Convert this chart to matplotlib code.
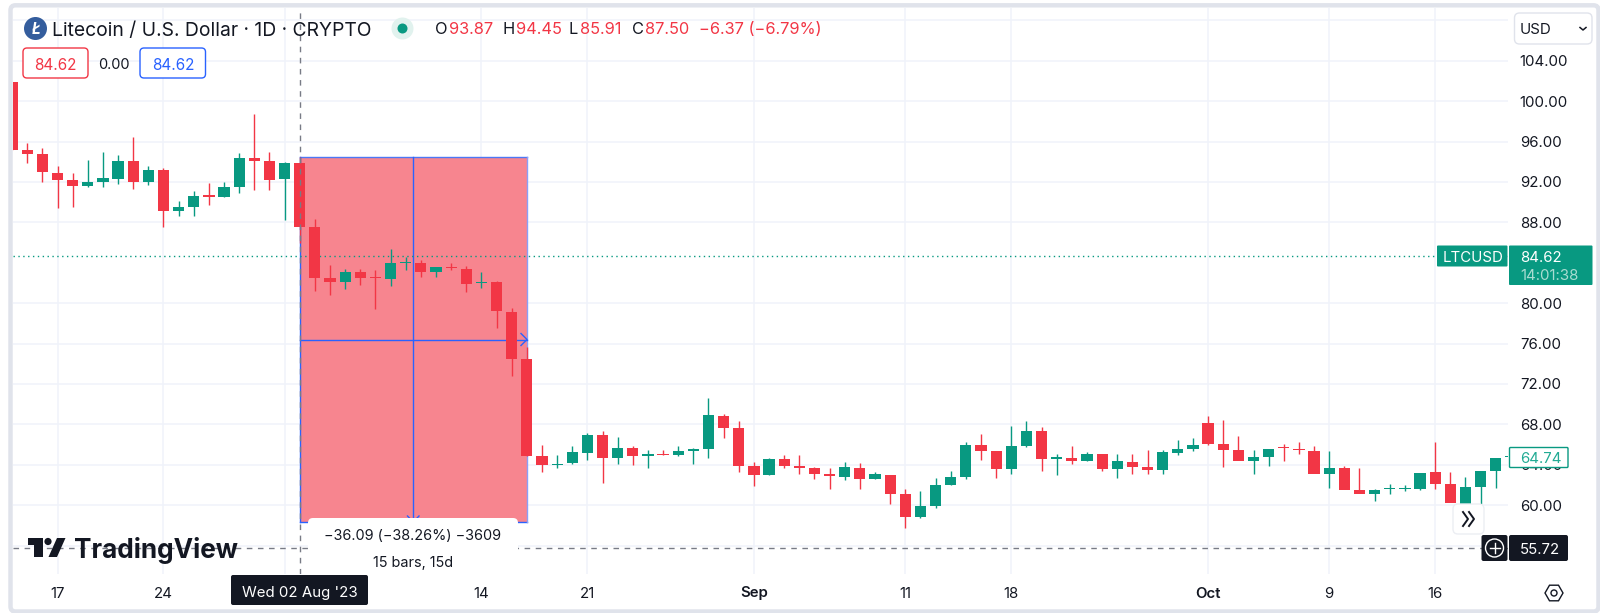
import matplotlib
matplotlib.use("Agg")
import matplotlib.pyplot as plt
import numpy as np
from matplotlib.patches import Circle, FancyBboxPatch, Polygon, Rectangle

plt.rcParams["font.family"] = ["Inter", "DejaVu Sans"]

# day offsets from 17 Jul 2023, first candle is 14 Jul (cut by the left edge)
first_day = -3
opens = [101.92, 95.16, 94.80, 92.88, 92.22, 91.56, 91.96, 92.32, 94.10, 92.02,
         93.21, 89.15, 89.48, 90.67, 90.54, 91.46, 94.37, 94.04, 92.29, 93.87,
         87.50, 82.48, 82.09, 83.08, 82.55, 82.36, 83.97, 84.00, 83.05, 83.60,
         83.41, 81.99, 82.06, 79.15, 74.46, 64.83, 63.97, 64.14, 65.19, 66.97,
         64.69, 65.65, 64.83, 65.06, 64.96, 65.36, 65.53, 68.85, 67.63, 63.90,
         62.95, 64.59, 63.90, 63.70, 63.08, 62.78, 63.64, 62.58, 63.01, 61.10,
         58.82, 59.88, 61.96, 62.81, 65.92, 65.36, 63.57, 65.88, 67.34, 64.59,
         64.69, 64.34, 65.09, 63.57, 64.27, 63.74, 63.51, 65.19, 65.53, 68.16,
         66.02, 65.43, 64.37, 64.76, 65.72, 65.53, 65.39, 63.08, 63.67, 61.50,
         61.07, 61.57, 61.57, 61.62, 63.28, 62.09, 60.14, 61.76, 63.38, 64.74][:100]
closes = [95.16, 94.73, 92.98, 92.22, 91.59, 91.99, 92.39, 94.10, 92.02, 93.21,
          89.15, 89.52, 90.64, 90.54, 91.50, 94.37, 94.04, 92.22, 93.87, 87.50,
          82.45, 82.09, 83.08, 82.45, 82.45, 83.94, 84.07, 83.05, 83.54, 83.50,
          81.92, 82.09, 79.22, 74.46, 64.83, 64.00, 64.10, 65.29, 66.97, 64.69,
          65.65, 64.83, 65.06, 64.96, 65.36, 65.53, 68.92, 67.63, 63.90, 62.98,
          64.59, 63.90, 63.70, 63.08, 62.85, 63.74, 62.58, 63.05, 61.10, 58.82,
          59.88, 61.96, 62.81, 65.92, 65.39, 63.57, 65.85, 67.34, 64.59, 64.73,
          64.34, 65.09, 63.57, 64.34, 63.77, 63.51, 65.23, 65.53, 65.98, 66.02,
          65.46, 64.40, 64.76, 65.53, 65.62, 65.46, 63.08, 63.64, 61.50, 61.10,
          61.50, 61.66, 61.66, 63.21, 62.09, 60.18, 61.79, 63.38, 64.69, 64.74][:100]
highs = [101.92, 95.82, 95.39, 93.61, 92.91, 94.17, 94.93, 94.70, 96.45, 93.57,
         93.34, 90.11, 91.13, 91.92, 91.99, 94.86, 98.72, 94.99, 93.94, 94.45,
         88.30, 83.77, 83.35, 83.41, 83.28, 85.36, 84.53, 84.27, 83.57, 83.94,
         83.64, 83.08, 82.19, 79.49, 75.68, 65.92, 64.93, 65.85, 67.11, 67.34,
         66.71, 65.85, 65.43, 65.46, 65.85, 65.68, 70.60, 69.02, 68.30, 64.24,
         64.66, 64.96, 64.99, 63.80, 63.64, 64.30, 64.14, 63.25, 63.01, 61.59,
         61.43, 62.71, 63.38, 66.25, 67.01, 65.36, 67.83, 68.36, 67.70, 65.03,
         65.85, 65.29, 65.09, 65.03, 65.03, 65.46, 65.46, 66.48, 66.61, 68.82,
         68.43, 66.84, 65.43, 65.29, 66.02, 66.28, 65.88, 65.39, 63.84, 63.67,
         61.57, 62.09, 61.99, 62.09, 66.28, 63.28, 62.81, 61.86, 64.27, 64.74]
lows = [95.16, 93.90, 92.02, 89.38, 89.52, 91.53, 91.50, 91.79, 91.33, 91.69,
        87.53, 88.62, 88.62, 89.71, 90.54, 90.90, 91.20, 91.20, 88.23, 85.91,
        81.20, 80.80, 81.37, 81.79, 79.39, 81.72, 83.28, 82.61, 82.61, 83.28,
        81.07, 81.53, 77.50, 72.81, 64.83, 63.28, 63.64, 64.07, 64.44, 62.19,
        64.07, 63.97, 63.64, 64.93, 64.86, 64.07, 64.63, 66.64, 63.28, 61.92,
        62.95, 63.64, 63.08, 62.61, 61.57, 62.49, 61.57, 62.58, 60.11, 57.76,
        58.69, 59.68, 61.96, 62.61, 64.47, 62.71, 63.05, 65.75, 63.41, 63.01,
        64.07, 64.34, 63.38, 62.65, 63.11, 63.08, 63.11, 64.99, 65.39, 65.92,
        63.80, 65.33, 63.05, 63.87, 64.40, 65.06, 65.09, 61.69, 62.61, 61.20,
        60.38, 61.07, 61.40, 61.47, 61.62, 61.50, 60.18, 60.14, 61.69, 63.38]

price_ticks = [56, 60, 64, 68, 72, 76, 80, 84, 88, 92, 96, 100, 104, 108]
price_ticks = [p for p in price_ticks if p != 84]
date_ticks = [0, 7, 15, 28, 35, 46, 56, 63, 76, 84, 91]
date_labels = ["17", "24", "Aug", "14", "21", "Sep", "11", "18", "Oct", "9", "16"]

# measure tool
measure_top = 94.43
measure_bottom = 58.34
measure_start = 16
measure_end = 31
last_price = 84.62
cross_price = 55.72

GREEN = "#089981"
RED = "#f23645"
BLUE = "#2962ff"
DARK = "#131722"
GRID = "#f0f3fa"
W, H = 1600, 613

fig = plt.figure(figsize=(W / 100, H / 100), dpi=100, facecolor="white")
ax = fig.add_axes([13 / W, 1 - 574 / H, (1508 - 13) / W, (574 - 8) / H])
ax.set_xlim(-2.94, 95.81)
ax.set_ylim(53.18, 109.22)
for s in ax.spines.values():
    s.set_visible(False)
ax.set_axisbelow(True)
ax.grid(True, color=GRID, lw=1.1)
ax.set_yticks(price_ticks)
ax.set_yticklabels(["%.2f" % p for p in price_ticks], fontsize=10.8, color=DARK, ha="left")
ax.yaxis.tick_right()
ax.tick_params(axis="y", length=0, pad=8.5)
ax.set_xticks(date_ticks)
ax.set_xticklabels(date_labels, fontsize=10.8, color=DARK)
ax.tick_params(axis="x", length=0, pad=9)
for lab in ax.get_xticklabels():
    if lab.get_text() in ("Aug", "Sep", "Oct"):
        lab.set_fontweight("semibold")

# measure box goes under the candles
ax.add_patch(Rectangle((measure_start, measure_bottom), measure_end - measure_start,
                       measure_top - measure_bottom, fc="#f7858f", ec="none", zorder=1))
measure_mid_x = (measure_start + measure_end) / 2
measure_mid_y = (measure_top + measure_bottom) / 2
ax.plot([measure_start, measure_end], [measure_top, measure_top], color="#4c78f5", lw=1, zorder=1.5)
ax.plot([measure_start, measure_end], [measure_bottom, measure_bottom], color=BLUE, lw=1, zorder=1.5)
ax.plot([measure_end, measure_end], [measure_bottom, measure_top], color="#8c9ff7", lw=1, zorder=1.5)
ax.plot([measure_start, measure_start], [measure_bottom, measure_top], color=BLUE, lw=1, zorder=1.5)
ax.plot([measure_mid_x, measure_mid_x], [measure_bottom, measure_top], color=BLUE, lw=1, zorder=1.5)
ax.plot([measure_start, measure_end], [measure_mid_y, measure_mid_y], color=BLUE, lw=1, zorder=1.5)

ax.axhline(last_price, color=GREEN, lw=1, ls=(0, (1, 2.5)), zorder=2)

days = np.arange(len(opens)) + first_day
for d, o, h, l, c in zip(days, opens, highs, lows, closes):
    col = GREEN if c >= o else RED
    ax.vlines(d, l, h, color=col, lw=1.0, zorder=3)
    top, bot = max(o, c), min(o, c)
    ax.add_patch(Rectangle((d - 0.37, bot), 0.74, max(top - bot, 0.1), fc=col, ec="none", zorder=3))

# crosshair on top of the candles
ax.axvline(measure_start, color="#787b86", lw=1, ls=(0, (4, 4)), zorder=4)
ax.axhline(cross_price, color="#787b86", lw=1, ls=(0, (4, 4)), zorder=4)

# everything below is interface chrome, placed in pixels
ui = fig.add_axes([0, 0, 1, 1], facecolor="none")
ui.set_xlim(0, W)
ui.set_ylim(H, 0)
ui.axis("off")


def box(x0, y0, x1, y1, fc, ec="none", r=2, lw=1, zorder=5, **kw):
    p = FancyBboxPatch((x0 + r, y0 + r), x1 - x0 - 2 * r, y1 - y0 - 2 * r,
                       boxstyle="round,pad=%g,rounding_size=%g" % (r, r),
                       fc=fc, ec=ec, lw=lw, zorder=zorder, **kw)
    ui.add_patch(p)


def label(x, y, s, color=DARK, size=10.8, ha="left", zorder=7, **kw):
    ui.text(x, y, s, color=color, fontsize=size, ha=ha, va="center_baseline", zorder=zorder, **kw)


# outer frame
box(10.5, 5.3, 1598.5, 611.5, "none", ec="#e0e3eb", r=5, lw=3.2, zorder=9)

# legend row
ui.add_patch(Circle((35.5, 28.5), 11.5, fc="#345d9d", ec="none", zorder=6))
label(35.5, 28.5, "Ł", color="white", size=11, ha="center", fontweight="bold", fontstyle="italic")
label(52, 28.5, "Litecoin / U.S. Dollar · 1D · CRYPTO", size=13.9)
ui.add_patch(Circle((402.5, 28.5), 11, fc="#e1f2ee", ec="none", zorder=6))
ui.add_patch(Circle((402.5, 28.5), 5, fc=GREEN, ec="none", zorder=6))
legend_bits = [(434.5, "O", DARK), (449, "93.87", RED), (502, "H", DARK), (516, "94.45", RED),
               (569, "L", DARK), (580, "85.91", RED), (632, "C", DARK), (645, "87.50", RED),
               (699, "−6.37 (−6.79%)", RED)]
for x, s, col in legend_bits:
    label(x, 28.5, s, color=col, size=11.8)

box(23, 48, 88, 78, "white", ec=RED, r=4)
label(55.5, 63.5, "84.62", color=RED, size=11, ha="center")
label(114, 63.5, "0.00", size=10.5, ha="center")
box(140, 48, 205.5, 78, "white", ec=BLUE, r=4)
label(173, 63.5, "84.62", color=BLUE, size=11, ha="center")

# currency box
box(1514.5, 13, 1592, 44, "white", ec="#e0e3eb", r=5)
label(1520, 29, "USD", size=10.8)
ui.plot([1580, 1583, 1586], [27.5, 30, 27.5], color=DARK, lw=1.1, zorder=7)

# last price tags
box(1437, 245.5, 1507.5, 266.5, GREEN, r=1)
label(1443, 256.5, "LTCUSD", color="white", size=10.8)
box(1509, 245.5, 1592.5, 285, GREEN, r=1)
label(1520, 256.5, "84.62", color="white", size=10.8)
label(1520, 274.5, "14:01:38", color="#a9dcd1", size=10.8)

box(1509.5, 447.5, 1568, 467.5, "white", ec=GREEN, r=1)
label(1520, 457.5, "64.74", color="#22ab94", size=10.8)

# crosshair price tag and plus button
box(1481.5, 535, 1507.5, 561, DARK, r=2)
box(1509, 535, 1568, 561, DARK, r=2)
label(1520, 548.5, "55.72", color="white", size=10.8)
ui.add_patch(Circle((1494.5, 548), 9, fc="none", ec="white", lw=1, zorder=7))
ui.plot([1489.5, 1499.5], [548, 548], color="white", lw=1, zorder=7)
ui.plot([1494.5, 1494.5], [543, 553], color="white", lw=1, zorder=7)

# scroll button
box(1453, 504, 1484, 534, "white", ec="#eceef3", r=5)
ui.plot([1463, 1468, 1463], [512, 519, 526], color=DARK, lw=1.4, zorder=7)
ui.plot([1469, 1474, 1469], [512, 519, 526], color=DARK, lw=1.4, zorder=7)

# settings icon
hex_a = np.deg2rad([0, 60, 120, 180, 240, 300])
ui.add_patch(Polygon(np.c_[1554 + 9 * np.cos(hex_a), 593 + 9 * np.sin(hex_a)], closed=True,
                     fc="none", ec=DARK, lw=1, zorder=7))
ui.add_patch(Circle((1554, 593), 3, fc="none", ec=DARK, lw=1, zorder=7))

# date tag under crosshair
box(231, 575, 368, 605, DARK, r=2)
label(300, 591, "Wed 02 Aug '23", color="white", size=10.8, ha="center")

# arrows of the measure tool
ui.plot([521, 527, 521], [333.5, 339.5, 345.5], color=BLUE, lw=1, zorder=5)
ui.plot([407.5, 413.3, 419], [516, 522, 516], color=BLUE, lw=1, zorder=5)

# measure tooltip
box(308, 518, 518, 575, "white", r=5)
label(413, 535, "−36.09 (−38.26%) −3609", size=10.4, ha="center")
label(413, 561, "15 bars, 15d", size=10.4, ha="center")

# TradingView logo
ui.add_patch(Polygon([(28, 538), (43, 538), (43, 557), (34, 557), (34, 545), (28, 545)],
                     closed=True, fc=DARK, ec="none", zorder=6))
ui.add_patch(Circle((48, 541.5), 3.6, fc=DARK, ec="none", zorder=6))
ui.add_patch(Polygon([(57, 538), (65.5, 538), (57, 557), (48.5, 557)], closed=True,
                     fc=DARK, ec="none", zorder=6))
label(74, 547, "TradingView", size=18.8, zorder=6, fontweight="bold")

fig.savefig("out.png", dpi=100)
